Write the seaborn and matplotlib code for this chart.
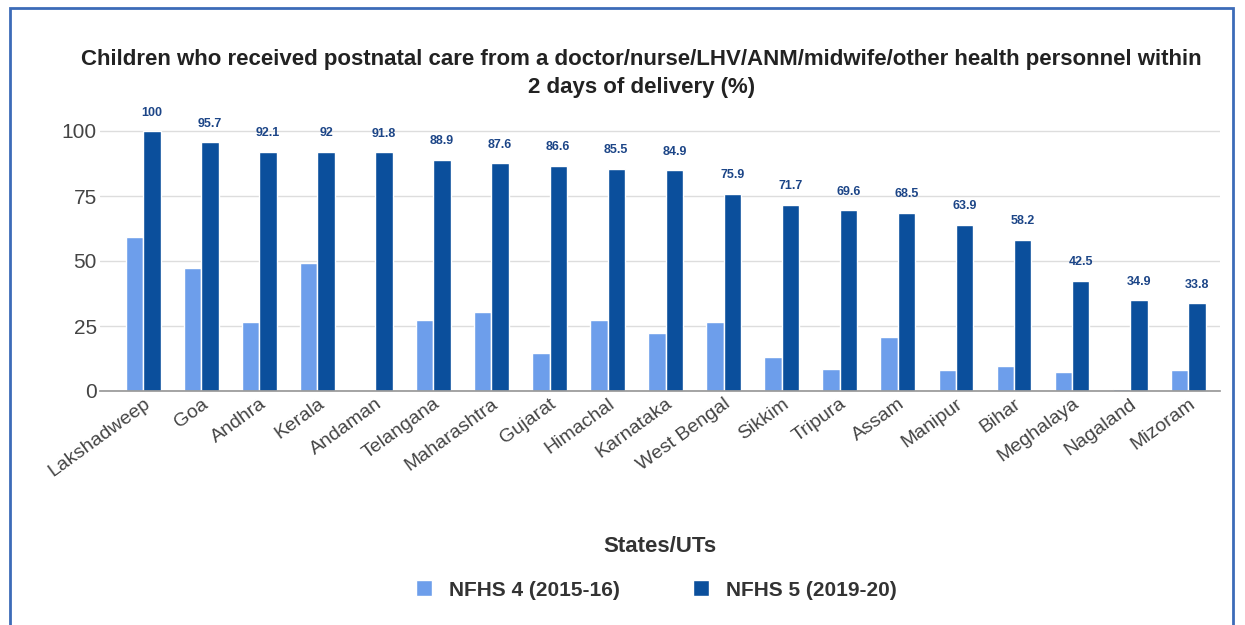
import matplotlib
matplotlib.use("Agg")
import matplotlib.pyplot as plt
import seaborn as sns
import pandas as pd
from matplotlib.patches import Rectangle

states = ["Lakshadweep", "Goa", "Andhra", "Kerala", "Andaman", "Telangana",
          "Maharashtra", "Gujarat", "Himachal", "Karnataka", "West Bengal",
          "Sikkim", "Tripura", "Assam", "Manipur", "Bihar", "Meghalaya",
          "Nagaland", "Mizoram"]
nfhs4 = [59.3, 47.3, 26.5, 49.3, 0.0, 27.3, 30.5, 14.7, 27.3, 22.3, 26.5,
         13.2, 8.5, 20.9, 8.1, 9.6, 7.4, 0.8, 8.1]
nfhs5 = [100, 95.7, 92.1, 92, 91.8, 88.9, 87.6, 86.6, 85.5, 84.9, 75.9,
         71.7, 69.6, 68.5, 63.9, 58.2, 42.5, 34.9, 33.8]
series = ["NFHS 4 (2015-16)", "NFHS 5 (2019-20)"]
yticks = [0, 25, 50, 75, 100]
title = ("Children who received postnatal care from a doctor/nurse/LHV/ANM/midwife/other health personnel within\n"
         "2 days of delivery (%)")

df = pd.DataFrame({
    "State": states * 2,
    "Survey": [series[0]] * len(states) + [series[1]] * len(states),
    "Value": nfhs4 + nfhs5,
})

sns.set_theme(style="white")
plt.rcParams["font.family"] = ["Liberation Sans", "DejaVu Sans"]

fig = plt.figure(figsize=(12.45, 6.25), dpi=100)
ax = fig.add_axes([0.080, 0.3744, 0.900, 0.4368])

light = "#6d9eeb"
dark = "#0b4f9c"
sns.barplot(data=df, x="State", y="Value", hue="Survey", palette=[light, dark],
            width=0.6, saturation=1, ax=ax, legend=True)

ax.set_ylim(0, 105)
ax.set_xlim(-0.75, len(states) - 0.45)
ax.set_yticks(yticks)
ax.set_yticklabels([str(t) for t in yticks], fontsize=15, color="#444444")
ax.yaxis.grid(True, color="#dddddd", linewidth=1)
ax.set_axisbelow(True)
for s in ["top", "right", "left"]:
    ax.spines[s].set_visible(False)
ax.spines["bottom"].set_color("#999999")
ax.tick_params(axis="y", length=0, pad=2)
ax.tick_params(axis="x", length=0, pad=3)
plt.setp(ax.get_xticklabels(), rotation=36, ha="right", rotation_mode="anchor",
         fontsize=14, color="#444444")
ax.set_ylabel("")
ax.set_xlabel("States/UTs", fontsize=16, fontweight="bold", color="#333333")
ax.xaxis.set_label_coords(0.5, -0.53)

cont = ax.containers[1]
ax.bar_label(cont, labels=[f"{v:g}" for v in nfhs5], padding=9,
             fontsize=9, fontweight="bold", color="#1c4587")

leg = ax.legend(loc="center", bbox_to_anchor=(0.527, 0.056),
                bbox_transform=fig.transFigure, ncol=2, frameon=False,
                fontsize=15, handlelength=0.8, handleheight=0.8,
                columnspacing=3.5)
for t in leg.get_texts():
    t.set_color("#333333")
    t.set_fontweight("bold")

fig.text(0.515, 0.883, title, ha="center", va="center", fontsize=16,
         fontweight="bold", color="#222222", linespacing=1.45)

fig.patches.append(Rectangle((0.008, -0.02), 0.982, 1.007,
                             transform=fig.transFigure, fill=False,
                             edgecolor="#3c6bb8", linewidth=2))

fig.savefig("out.png", dpi=100, facecolor="white")
